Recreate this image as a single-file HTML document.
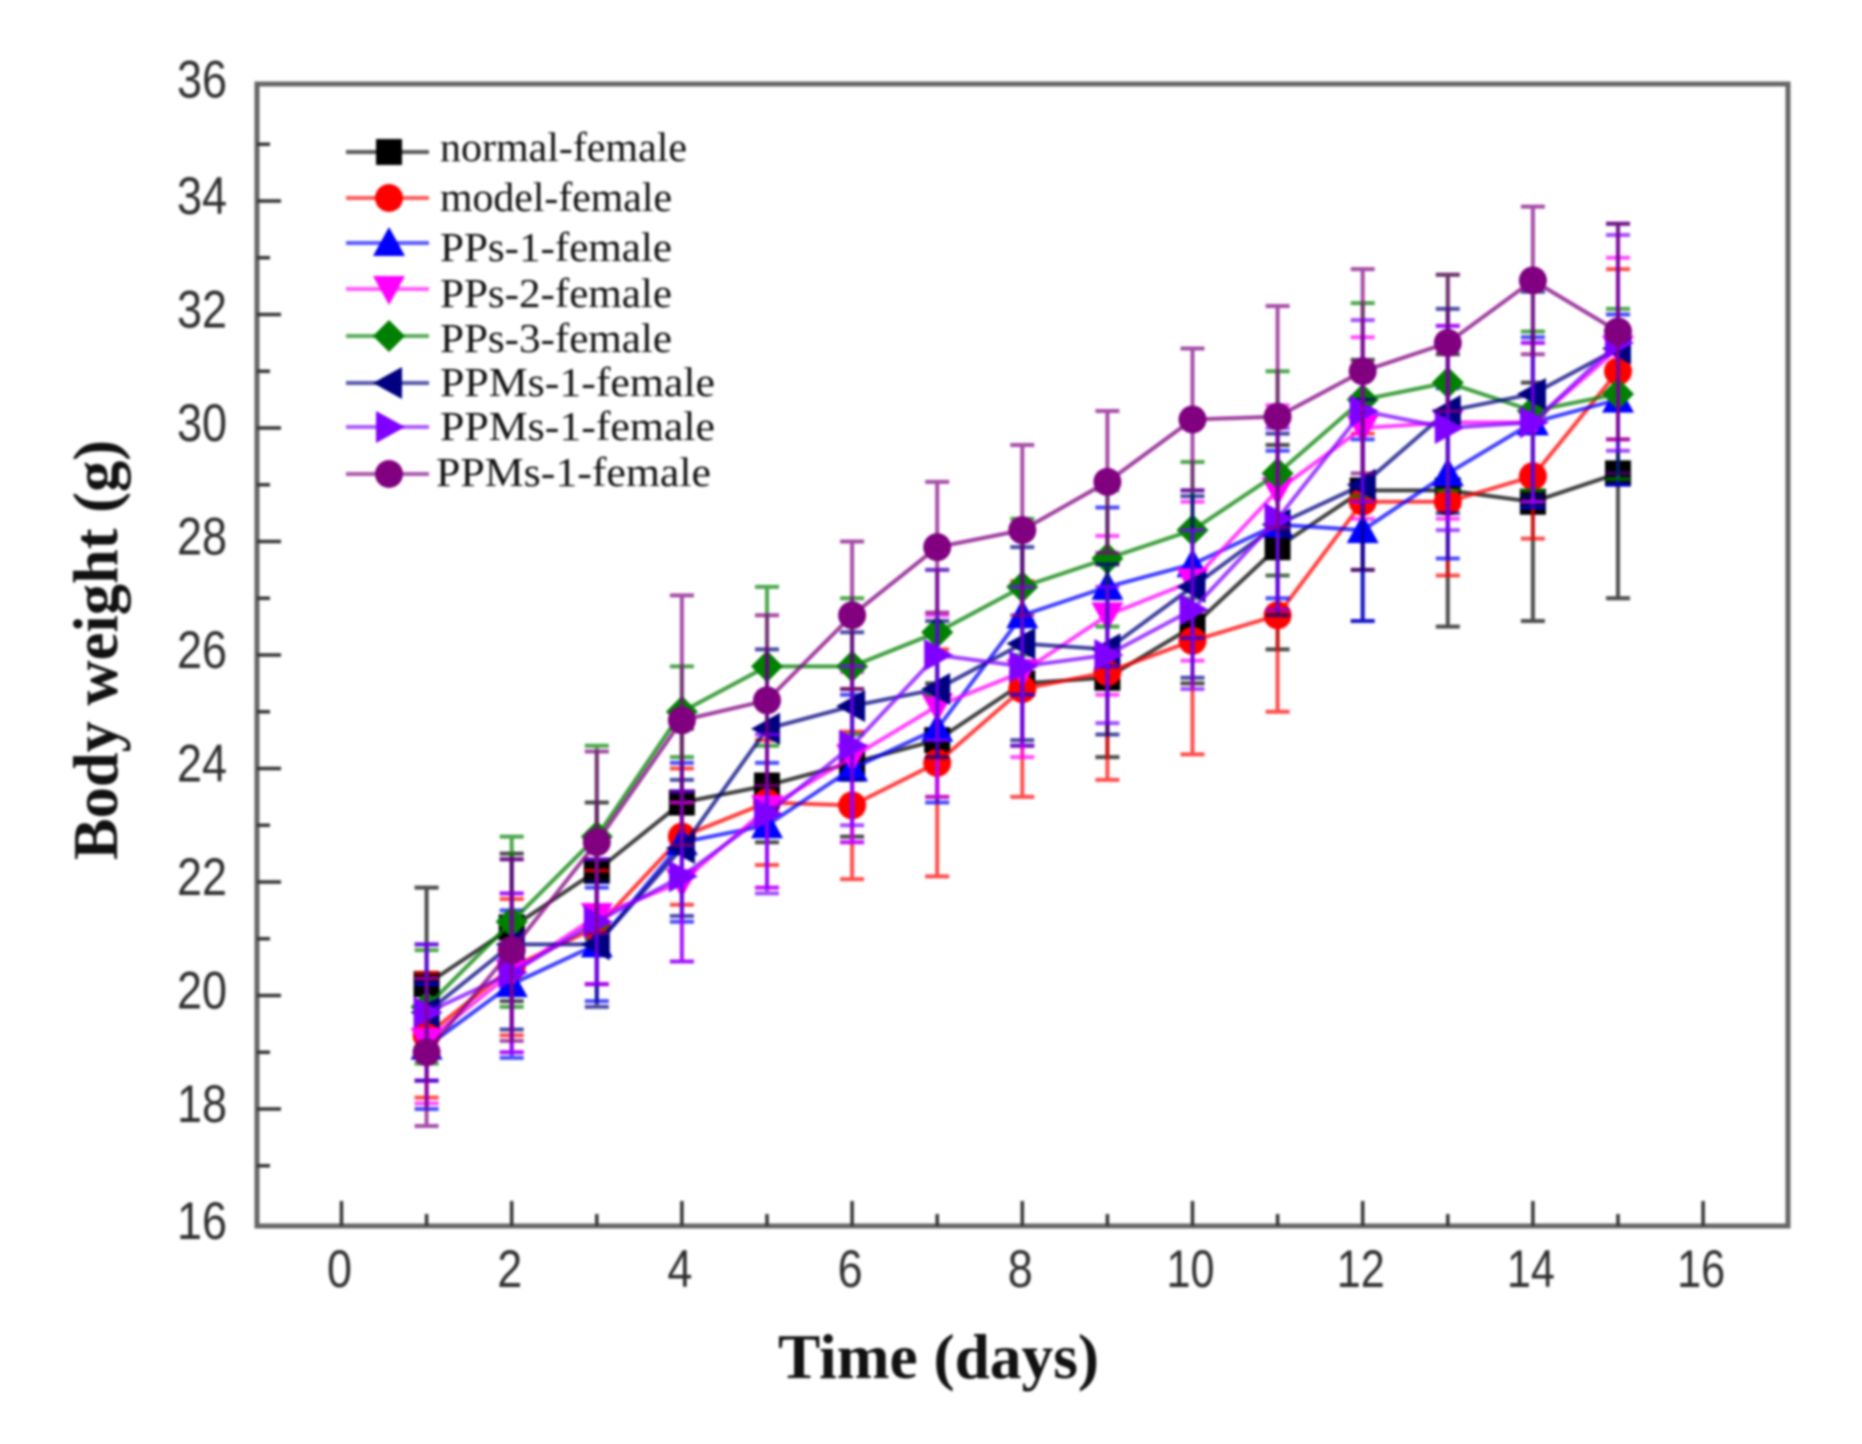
<!DOCTYPE html>
<html lang="en">
<head>
<meta charset="utf-8">
<title>Body weight over time</title>
<style>
html,body{margin:0;padding:0;background:#fff;width:1862px;height:1444px;overflow:hidden}
#chart{display:block;filter:blur(1.3px)}
text{fill:#222}
.tick-label{font-family:"Liberation Sans",sans-serif;font-size:53px;fill:#2e2e2e}
.legend-label{font-family:"Liberation Serif",serif;font-size:41px;fill:#111}
.axis-title{font-family:"Liberation Serif",serif;font-size:63px;font-weight:bold;fill:#111}
</style>
</head>
<body>
<svg id="chart" xmlns="http://www.w3.org/2000/svg" width="1862" height="1444" viewBox="0 0 1862 1444">
  <rect x="257" y="84" width="1531" height="1142" fill="#fff" stroke="#666" stroke-width="5"/>
  <g id="axes"></g>
  <g id="series"></g>
  <g id="legend"></g>
  <text class="axis-title" x="778" y="1378" textLength="321" lengthAdjust="spacingAndGlyphs">Time (days)</text>
  <text class="axis-title" transform="translate(117 860) rotate(-90)" textLength="420" lengthAdjust="spacingAndGlyphs">Body weight (g)</text>
</svg>
<script>
const days = [1,2,3,4,5,6,7,8,9,10,11,12,13,14,15];
const xTickLabels = [0,2,4,6,8,10,12,14,16];
const yTickLabels = [16,18,20,22,24,26,28,30,32,34,36];

const normalFemale = [20.2,21.2,22.2,23.4,23.7,24.1,24.5,25.5,25.6,26.5,27.9,28.9,28.9,28.7,29.2];
const modelFemale = [19.3,20.5,21.2,22.8,23.4,23.35,24.1,25.4,25.7,26.25,26.7,28.7,28.7,29.15,31.0];
const pps1Female = [19.1,20.2,20.9,22.7,23.0,24.0,24.7,26.7,27.2,27.6,28.3,28.2,29.2,30.1,30.5];
const pps2Female = [19.2,20.4,21.4,22.0,23.3,24.2,25.1,25.7,26.7,27.3,28.9,30.0,30.1,30.1,31.4];
const pps3Female = [19.8,21.3,22.8,25.0,25.8,25.8,26.4,27.2,27.7,28.2,29.2,30.5,30.8,30.3,30.6];
const ppmsNavyFemale = [19.7,20.9,20.9,22.6,24.7,25.1,25.4,26.2,26.1,27.2,28.3,29.0,30.3,30.6,31.4];
const ppmsVioletFemale = [19.7,20.4,21.3,22.1,23.2,24.4,26.0,25.8,26.0,26.8,28.4,30.3,30.0,30.1,31.5];
const ppmsPurpleFemale = [19.0,20.8,22.7,24.85,25.2,26.7,27.9,28.2,29.05,30.15,30.2,31.0,31.5,32.6,31.7];

const normalErr = [1.7,1.3,1.2,1.3,1.0,1.3,1.0,1.1,1.4,1.0,1.8,2.3,2.4,2.1,2.2];
const modelErr = [1.1,1.2,1.0,1.2,1.1,1.3,2.0,1.9,1.9,2.0,1.7,1.2,1.3,1.1,1.8];
const pps1Err = [1.1,1.3,1.0,1.4,1.1,1.3,1.3,1.4,1.4,1.3,1.3,1.6,1.5,1.5,1.5];
const pps2Err = [1.1,1.4,1.2,1.4,1.4,1.5,1.6,1.5,1.4,1.4,1.5,1.6,1.7,1.4,1.6];
const pps3Err = [1.0,1.5,1.6,0.8,1.4,1.2,1.1,1.2,1.2,1.2,1.8,1.7,1.9,1.4,1.5];
const ppmsNavyErr = [1.2,1.5,1.1,1.2,1.4,1.3,1.2,1.7,1.5,1.6,1.6,1.5,1.8,1.8,2.2];
const ppmsVioletErr = [1.2,1.4,1.1,1.5,1.4,1.4,1.5,1.4,1.2,1.4,1.6,1.6,1.8,1.4,1.9];
const ppmsPurpleErr = [1.3,1.6,1.6,2.2,1.5,1.3,1.15,1.5,1.25,1.25,1.95,1.8,1.2,1.3,1.9];

const seriesNames = ["normal-female","model-female","PPs-1-female","PPs-2-female","PPs-3-female","PPMs-1-female","PPMs-1-female","PPMs-1-female"];
const seriesValues = [normalFemale,modelFemale,pps1Female,pps2Female,pps3Female,ppmsNavyFemale,ppmsVioletFemale,ppmsPurpleFemale];
const seriesErrors = [normalErr,modelErr,pps1Err,pps2Err,pps3Err,ppmsNavyErr,ppmsVioletErr,ppmsPurpleErr];
const seriesColors = ["#000000","#ff0000","#0000ff","#ff00ff","#008000","#000080","#8000ff","#800080"];
const seriesShapes = ["square","circle","up","down","diamond","left","right","circle"];

const legendLayout = [
  {my:152,ty:161,tx:440,tw:247},
  {my:198,ty:211,tx:440,tw:232},
  {my:243,ty:261,tx:440,tw:232},
  {my:289,ty:307,tx:440,tw:232},
  {my:336,ty:352,tx:440,tw:232},
  {my:383,ty:396,tx:440,tw:275},
  {my:427,ty:440,tx:440,tw:275},
  {my:474,ty:486,tx:436,tw:275}
];

const NS = "http://www.w3.org/2000/svg";
const xScale = d => 341.5 + 85.1 * d;
const yScale = v => 1109 - (v - 18) * 56.75;
const yLabelBaseline = v => v === 36 ? 97.5 : (v === 16 ? 1239 : yScale(v) + 13);

function make(tag, attrs, parent) {
  const el = document.createElementNS(NS, tag);
  for (const k in attrs) el.setAttribute(k, attrs[k]);
  parent.appendChild(el);
  return el;
}

function drawMarker(shape, cx, cy, color, parent) {
  const r = 14;
  let el;
  if (shape === "square") {
    el = make("rect", {x:cx-r+1, y:cy-r+1, width:2*r-2, height:2*r-2, fill:color}, parent);
  } else if (shape === "circle") {
    el = make("circle", {cx:cx, cy:cy, r:r, fill:color}, parent);
  } else {
    const R = r + 2;
    const pts = {
      up: [[cx,cy-R],[cx+R,cy+R-3],[cx-R,cy+R-3]],
      down: [[cx,cy+R],[cx+R,cy-R+3],[cx-R,cy-R+3]],
      left: [[cx-R,cy],[cx+R-3,cy-R],[cx+R-3,cy+R]],
      right: [[cx+R,cy],[cx-R+3,cy-R],[cx-R+3,cy+R]],
      diamond: [[cx,cy-R],[cx+R,cy],[cx,cy+R],[cx-R,cy]]
    }[shape];
    el = make("polygon", {points: pts.map(p => p.join(",")).join(" "), fill:color}, parent);
  }
  return el;
}

const axes = document.getElementById("axes");
for (let v = 16; v <= 36; v++) {
  if (v === 16 || v === 36) continue;
  const major = v % 2 === 0;
  const t = make("line", {x1:257, x2:major?281:270, y1:yScale(v), y2:yScale(v), stroke:"#333", "stroke-width":3.5}, axes);
  
  
}
for (let d = 0; d <= 16; d++) {
  const major = d % 2 === 0;
  const t = make("line", {x1:xScale(d), x2:xScale(d), y1:1226, y2:major?1201:1214, stroke:"#333", "stroke-width":3.5}, axes);
  
  
}
yTickLabels.forEach(v => {
  const t = make("text", {class:"tick-label", x:177, y:yLabelBaseline(v), textLength:50, lengthAdjust:"spacingAndGlyphs"}, axes);
  t.textContent = v;
  
  
});
xTickLabels.forEach(d => {
  const w = d < 10 ? 25 : 48;
  const t = make("text", {class:"tick-label", x:xScale(d)-w/2-2, y:1287, textLength:w, lengthAdjust:"spacingAndGlyphs"}, axes);
  t.textContent = d;
  
  
});

const seriesRoot = document.getElementById("series");
seriesValues.forEach((vals, i) => {
  const color = seriesColors[i];
  const g = make("g", {}, seriesRoot);
  
  
  vals.forEach((v, j) => {
    const e = seriesErrors[i][j];
    const x = xScale(days[j]);
    const top = yScale(v + e), bot = yScale(v - e);
    const bar = make("path", {
      d:"M"+x+" "+top+"V"+bot+"M"+(x-12)+" "+top+"H"+(x+12)+"M"+(x-12)+" "+bot+"H"+(x+12),
      stroke:color, "stroke-width":4, fill:"none", opacity:0.7
    }, g);
    
    
  });
  const line = make("polyline", {
    points: vals.map((v, j) => xScale(days[j]) + "," + yScale(v)).join(" "),
    fill:"none", stroke:color, "stroke-width":4, opacity:0.75
  }, g);
  
  
  vals.forEach((v, j) => {
    const m = drawMarker(seriesShapes[i], xScale(days[j]), yScale(v), color, g);
    
    
  });
});

const legend = document.getElementById("legend");
seriesNames.forEach((name, i) => {
  const row = legendLayout[i];
  const ln = make("line", {x1:346, x2:429, y1:row.my, y2:row.my, stroke:seriesColors[i], "stroke-width":4, opacity:0.65}, legend);
  
  
  const mk = drawMarker(seriesShapes[i], 389, row.my, seriesColors[i], legend);
  
  
  const tx = make("text", {class:"legend-label", x:row.tx, y:row.ty, textLength:row.tw, lengthAdjust:"spacingAndGlyphs"}, legend);
  tx.textContent = name;
  
  
});
</script>
</body>
</html>
